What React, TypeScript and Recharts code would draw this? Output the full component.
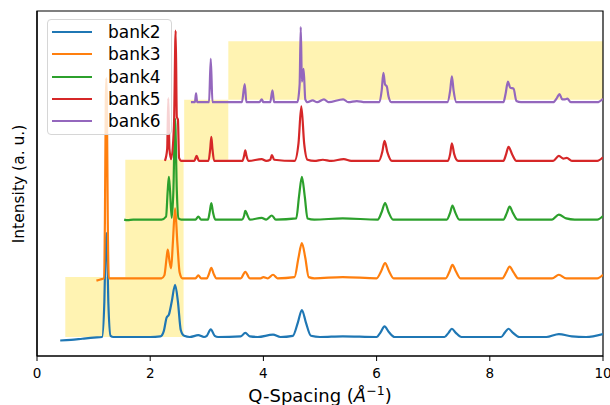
import { LineChart, Line, XAxis, YAxis, ReferenceArea } from "recharts";

const BANKS = ["bank2", "bank3", "bank4", "bank5", "bank6"];
const COLORS = ["#1f77b4", "#ff7f0e", "#2ca02c", "#d62728", "#9467bd"];
const OFFSETS = [0, 1, 2, 3, 4];
const X_TICKS = [0, 2, 4, 6, 8, 10];

// highlighted Q-ranges (yellow boxes): [x1, x2, y1, y2]
const RANGES = [
  [0.5, 2.59, 0, 1.02],
  [1.56, 2.59, 1.02, 3.02],
  [2.6, 3.38, 3.02, 4.04],
  [3.38, 10, 4.04, 5.04],
];

// [Q, intensity], one list per bank
const BANK2 = [
  [0.41, -0.06], [0.6, -0.05], [0.8, -0.03], [1.0, -0.01], [1.15, 0.0], [1.19, 0.6], [1.21, 1.5], [1.225, 1.77],
  [1.24, 1.5], [1.26, 0.6], [1.3, 0.02], [1.35, 0.0], [2.0, 0.0], [2.18, 0.01], [2.24, 0.1], [2.29, 0.33],
  [2.33, 0.38], [2.38, 0.6], [2.44, 0.89], [2.49, 0.6], [2.54, 0.12], [2.6, 0.02], [2.7, 0.0], [2.85, 0.03],
  [2.95, 0.0], [3.0, 0.02], [3.07, 0.13], [3.14, 0.02], [3.2, 0.0], [3.6, 0.01], [3.68, 0.07], [3.76, 0.01],
  [3.9, 0.0], [4.17, 0.04], [4.3, 0.0], [4.52, 0.02], [4.61, 0.25], [4.68, 0.46], [4.75, 0.25], [4.84, 0.02],
  [5.0, 0.0], [5.4, 0.01], [6.0, 0.0], [6.07, 0.08], [6.14, 0.18], [6.22, 0.08], [6.32, 0.0], [7.2, 0.0],
  [7.27, 0.07], [7.33, 0.14], [7.4, 0.07], [7.5, 0.0], [8.2, 0.0], [8.27, 0.08], [8.33, 0.14], [8.41, 0.07],
  [8.52, 0.0], [9.0, 0.0], [9.22, 0.05], [9.45, 0.01], [9.7, 0.0], [10.0, 0.05],
];
const BANK3 = [
  [1.05, -0.04], [1.12, -0.02], [1.18, 0.0], [1.2, 1.0], [1.215, 3.0], [1.225, 3.41], [1.235, 3.0], [1.25, 1.0],
  [1.27, 0.0], [1.5, 0.0], [2.2, 0.0], [2.25, 0.05], [2.29, 0.35], [2.31, 0.49], [2.34, 0.3], [2.37, 0.17],
  [2.4, 0.6], [2.44, 1.19], [2.48, 0.6], [2.52, 0.1], [2.57, 0.0], [2.8, 0.0], [2.85, 0.05], [2.9, 0.0],
  [3.0, 0.0], [3.04, 0.08], [3.08, 0.18], [3.12, 0.08], [3.17, 0.0], [3.6, 0.0], [3.68, 0.11], [3.76, 0.0],
  [3.95, 0.0], [4.0, 0.02], [4.08, 0.0], [4.17, 0.06], [4.25, 0.0], [4.55, 0.02], [4.62, 0.35], [4.68, 0.6],
  [4.74, 0.35], [4.8, 0.02], [4.9, 0.0], [5.4, 0.02], [6.0, 0.0], [6.08, 0.12], [6.15, 0.26], [6.22, 0.12],
  [6.3, 0.0], [7.22, 0.0], [7.29, 0.12], [7.34, 0.23], [7.4, 0.12], [7.48, 0.0], [8.22, 0.0], [8.29, 0.1],
  [8.35, 0.2], [8.42, 0.1], [8.5, 0.0], [9.1, 0.0], [9.22, 0.06], [9.35, 0.0], [9.9, 0.0], [10.0, 0.06],
];
const BANK4 = [
  [1.54, 0.0], [1.6, -0.01], [1.7, 0.0], [2.2, 0.0], [2.28, 0.05], [2.31, 0.5], [2.33, 0.73], [2.35, 0.5],
  [2.38, 0.03], [2.41, 0.5], [2.44, 1.72], [2.47, 0.5], [2.5, 0.02], [2.55, 0.0], [2.8, 0.0], [2.85, 0.05],
  [2.9, 0.0], [3.02, 0.0], [3.05, 0.12], [3.08, 0.28], [3.11, 0.12], [3.15, 0.0], [3.62, 0.0], [3.66, 0.07],
  [3.68, 0.15], [3.72, 0.07], [3.76, 0.0], [3.97, 0.03], [4.05, 0.0], [4.15, 0.07], [4.22, 0.0], [4.58, 0.02],
  [4.63, 0.4], [4.68, 0.73], [4.73, 0.4], [4.78, 0.02], [4.9, 0.0], [5.4, 0.02], [6.02, 0.0], [6.09, 0.13],
  [6.15, 0.28], [6.21, 0.13], [6.29, 0.0], [7.24, 0.0], [7.3, 0.12], [7.34, 0.24], [7.39, 0.12], [7.46, 0.0],
  [8.24, 0.0], [8.3, 0.11], [8.35, 0.22], [8.41, 0.11], [8.49, 0.0], [9.1, 0.0], [9.22, 0.085], [9.35, 0.02],
  [9.5, 0.0], [9.9, 0.0], [10.0, 0.06],
];
const BANK5 = [
  [2.26, 0.0], [2.3, 0.2], [2.32, 1.07], [2.34, 0.2], [2.37, 0.03], [2.42, 0.6], [2.45, 2.22], [2.47, 0.75],
  [2.49, 0.7], [2.51, 0.05], [2.55, 0.0], [2.78, 0.0], [2.82, 0.085], [2.86, 0.0], [3.03, 0.0], [3.06, 0.2],
  [3.08, 0.41], [3.1, 0.2], [3.13, 0.0], [3.63, 0.0], [3.66, 0.09], [3.68, 0.18], [3.7, 0.09], [3.74, 0.0],
  [3.97, 0.03], [4.05, 0.0], [4.12, 0.02], [4.15, 0.1], [4.19, 0.02], [4.55, 0.0], [4.62, 0.3], [4.67, 0.93],
  [4.72, 0.3], [4.78, 0.02], [4.9, 0.0], [5.05, 0.02], [5.2, 0.0], [5.42, 0.03], [5.55, 0.0], [6.04, 0.0],
  [6.1, 0.15], [6.14, 0.34], [6.19, 0.15], [6.27, 0.0], [7.26, 0.0], [7.3, 0.12], [7.33, 0.3], [7.37, 0.12],
  [7.44, 0.0], [8.24, 0.0], [8.29, 0.12], [8.33, 0.24], [8.4, 0.1], [8.47, 0.0], [9.12, 0.0], [9.22, 0.085],
  [9.3, 0.04], [9.36, 0.05], [9.45, 0.0], [9.9, 0.0], [10.0, 0.06],
];
const BANK6 = [
  [2.72, 0.0], [2.79, 0.0], [2.81, 0.15], [2.83, 0.0], [3.04, 0.0], [3.07, 0.74], [3.1, 0.0], [3.62, 0.0],
  [3.67, 0.31], [3.7, 0.0], [3.93, 0.0], [3.97, 0.05], [4.0, 0.0], [4.12, 0.0], [4.16, 0.2], [4.19, 0.0],
  [4.6, 0.0], [4.64, 0.3], [4.66, 1.28], [4.68, 0.35], [4.71, 0.57], [4.74, 0.05], [4.78, 0.0], [4.87, 0.03],
  [4.95, 0.0], [5.07, 0.05], [5.15, 0.0], [5.41, 0.05], [5.5, 0.0], [5.65, 0.02], [5.8, 0.0], [6.05, 0.0],
  [6.09, 0.2], [6.12, 0.5], [6.15, 0.3], [6.18, 0.27], [6.21, 0.1], [6.26, 0.0], [7.25, 0.0], [7.3, 0.2],
  [7.33, 0.44], [7.36, 0.2], [7.41, 0.0], [8.24, 0.0], [8.28, 0.15], [8.32, 0.35], [8.36, 0.25], [8.42, 0.23],
  [8.47, 0.02], [8.55, 0.0], [9.12, 0.0], [9.19, 0.08], [9.23, 0.14], [9.28, 0.05], [9.33, 0.05], [9.37, 0.06],
  [9.43, 0.0], [9.9, 0.0], [10.0, 0.06],
];
const POINTS = [BANK2, BANK3, BANK4, BANK5, BANK6];

const Y_DOMAIN = [-0.324, 5.554];
const FONT = "'DejaVu Sans', sans-serif";

const series = BANKS.map((name, i) => ({
  name,
  color: COLORS[i],
  data: POINTS[i].map(([q, v]) => ({ x: q, y: v + OFFSETS[i] })),
}));

function XLabel() {
  return (
    <text x={320} y={402} textAnchor="middle" fontFamily={FONT} fontSize={18} fill="#000">
      Q-Spacing (<tspan fontStyle="italic">Å</tspan>
      <tspan dy={-7} fontSize={12.5}>−1</tspan>
      <tspan dy={7}>)</tspan>
    </text>
  );
}

function YLabel() {
  return (
    <text x={18.5} y={184} transform="rotate(-90 18.5 184)" textAnchor="middle" dominantBaseline="central"
      fontFamily={FONT} fontSize={15.5} fill="#000">
      Intensity (a. u.)
    </text>
  );
}

export default function App() {
  return (
    <div style={{ position: "absolute", left: 0, top: 0, width: 610, height: 405, background: "#fff" }}>
      <LineChart width={610} height={405} margin={{ top: 11, right: 7, bottom: 0, left: 0 }}>
        <XAxis dataKey="x" type="number" domain={[0, 10]} ticks={X_TICKS} allowDataOverflow height={49}
          axisLine={{ stroke: "#000", strokeWidth: 1.2 }} tickLine={{ stroke: "#000" }} tickSize={5} tickMargin={7}
          tick={{ fill: "#000", fontSize: 13.5, fontFamily: FONT }} label={{ content: () => <XLabel /> }} />
        <YAxis type="number" domain={Y_DOMAIN} allowDataOverflow width={37} tick={false} tickLine={false}
          axisLine={{ stroke: "#000", strokeWidth: 1.2 }} label={{ content: () => <YLabel /> }} />
        {RANGES.map(([x1, x2, y1, y2], i) => (
          <ReferenceArea key={i} x1={x1} x2={x2} y1={y1} y2={y2} fill="#ffd700" fillOpacity={0.3} stroke="none" ifOverflow="hidden" />
        ))}
        {series.map((s) => (
          <Line key={s.name} data={s.data} dataKey="y" name={s.name} type="monotone" stroke={s.color}
            strokeWidth={2.2} dot={false} isAnimationActive={false} />
        ))}
        {/* plot frame */}
        <ReferenceArea x1={0} x2={10} y1={Y_DOMAIN[0]} y2={Y_DOMAIN[1]} fill="none" stroke="#000" strokeWidth={1.2} />
      </LineChart>
      {/* legend */}
      <div style={{
        position: "absolute", left: 47, top: 19, width: 125, height: 116, boxSizing: "border-box",
        border: "1px solid #d6d6d6", borderRadius: 4, background: "rgba(255,255,255,0.8)",
      }}>
        {series.map((s, i) => (
          <div key={s.name} style={{ position: "absolute", left: 4, top: 1 + i * 22.25, height: 22, display: "flex", alignItems: "center" }}>
            <span style={{ display: "inline-block", width: 40, height: 2, background: s.color }} />
            <span style={{ marginLeft: 16, fontFamily: FONT, fontSize: 17, color: "#000", lineHeight: "22px" }}>{s.name}</span>
          </div>
        ))}
      </div>
    </div>
  );
}
